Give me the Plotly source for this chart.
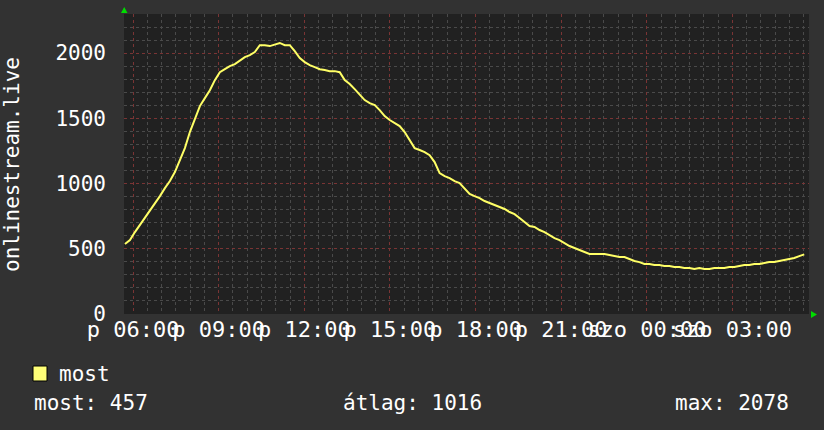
import pandas as pd
import plotly.graph_objects as go

# ---- data ----
start_time = "2024-03-01 05:43"   # Friday ("p") morning
sample_seconds = 630
viewers = [
    536, 567, 628, 682, 736, 797, 850, 904, 965, 1019,
    1088, 1180, 1272, 1395, 1502, 1594, 1655, 1716, 1793, 1854,
    1877, 1900, 1916, 1946, 1969, 1985, 2008, 2061, 2061, 2054,
    2069, 2078, 2061, 2061, 2015, 1962, 1931, 1908, 1893, 1877,
    1870, 1862, 1862, 1854, 1793, 1763, 1724, 1678, 1640, 1617,
    1602, 1563, 1517, 1487, 1464, 1441, 1395, 1333, 1272, 1257,
    1241, 1218, 1165, 1080, 1057, 1042, 1019, 1004, 958, 920,
    904, 889, 866, 850, 835, 820, 805, 782, 766, 736,
    705, 674, 667, 644, 628, 605, 582, 567, 544, 521,
    506, 490, 475, 460, 460, 460, 460, 452, 444, 437,
    437, 421, 406, 398, 383, 383, 375, 375, 368, 368,
    360, 360, 352, 352, 345, 352, 345, 345, 352, 352,
    352, 360, 360, 368, 375, 375, 383, 383, 391, 398,
    398, 406, 414, 421, 429, 444, 457,
]
times = pd.date_range(start=start_time, periods=len(viewers), freq=f"{sample_seconds}s")

x_range = ["2024-03-01 05:41", "2024-03-02 05:41"]
tick_vals = ["2024-03-01 06:00", "2024-03-01 09:00", "2024-03-01 12:00", "2024-03-01 15:00",
             "2024-03-01 18:00", "2024-03-01 21:00", "2024-03-02 00:00", "2024-03-02 03:00"]
tick_text = ["p 06:00", "p 09:00", "p 12:00", "p 15:00", "p 18:00", "p 21:00",
             "szo 00:00", "szo 03:00"]
y_ticks = [0, 500, 1000, 1500, 2000]

series_name = "most"
y_title = "onlinestream.live"
stat_now = "most: 457"
stat_avg = "átlag: 1016"
stat_max = "max: 2078"

# ---- style ----
FONT = "DejaVu Sans Mono"
BG = "#323232"
CANVAS = "#212121"
MAJOR = "#7a3434"
MINOR = "#4a4a4a"
LINE = "#ffff66"
FS = 21

W, H = 824, 430
L, R, T, B = 124, 15, 14, 116
PW, PH = W - L - R, H - T - B


def px(x):
    return (x - L) / PW


def py(y):
    return (H - B - y) / PH


fig = go.Figure()
fig.add_trace(go.Scatter(x=times, y=viewers, mode="lines", name=series_name,
                         line=dict(color=LINE, width=2), showlegend=False))

fig.update_layout(
    width=W, height=H,
    margin=dict(l=L, r=R, t=T, b=B, pad=0),
    paper_bgcolor=BG, plot_bgcolor=CANVAS,
    font=dict(family=FONT, color="#ffffff", size=FS),
    showlegend=False,
)
fig.update_xaxes(
    type="date", range=x_range,
    tickmode="array", tickvals=tick_vals, ticktext=tick_text, tickangle=0,
    tickfont=dict(family=FONT, size=22, color="#ffffff"),
    showgrid=True, gridcolor=MAJOR, griddash="dot", gridwidth=1,
    ticks="",
    minor=dict(showgrid=True, gridcolor=MINOR, griddash="dot", gridwidth=1,
               dtick=1800000, tick0="2024-03-01 06:00"),
    zeroline=False, showline=False, fixedrange=True,
)
fig.update_yaxes(
    range=[0, 2300], tickmode="array", tickvals=y_ticks,
    tickfont=dict(family=FONT, size=FS, color="#ffffff"),
    showgrid=True, gridcolor=MAJOR, griddash="dot", gridwidth=1,
    minor=dict(showgrid=True, gridcolor=MINOR, griddash="dot", gridwidth=1, dtick=100),
    ticks="", ticklabelstandoff=17,
    zeroline=False, showline=False, fixedrange=True,
)

annotations = [
    dict(text=y_title, x=px(12), y=py(165), textangle=-90),
    dict(text=series_name, x=px(57), y=py(374), xanchor="left"),
    dict(text=stat_now, x=px(32), y=py(403), xanchor="left"),
    dict(text=stat_avg, x=px(341), y=py(403), xanchor="left"),
    dict(text=stat_max, x=px(791), y=py(403), xanchor="right"),
]
for a in annotations:
    a.update(xref="paper", yref="paper", showarrow=False, yanchor="middle",
             font=dict(family=FONT, size=FS, color="#ffffff"))
    a.setdefault("xanchor", "center")
fig.update_layout(annotations=annotations)

shapes = [
    # legend swatch
    dict(type="rect", xref="paper", yref="paper",
         x0=px(33), x1=px(47), y0=py(381), y1=py(366),
         fillcolor="#ffff77", line=dict(color="#000000", width=1)),
    # green arrow heads
    dict(type="path", xref="paper", yref="paper",
         path=f"M {px(121)},{py(13)} L {px(127.5)},{py(13)} L {px(124.2)},{py(7)} Z",
         fillcolor="#00dd00", line=dict(width=0)),
    dict(type="path", xref="paper", yref="paper",
         path=f"M {px(811)},{py(311)} L {px(811)},{py(318)} L {px(817)},{py(314.5)} Z",
         fillcolor="#00dd00", line=dict(width=0)),
]
fig.update_layout(shapes=shapes)

fig.write_html("out.html", config={"displayModeBar": False},
               post_script="document.body.style.margin='0';document.body.style.padding='0';"
                           "document.body.style.background='#323232';")
